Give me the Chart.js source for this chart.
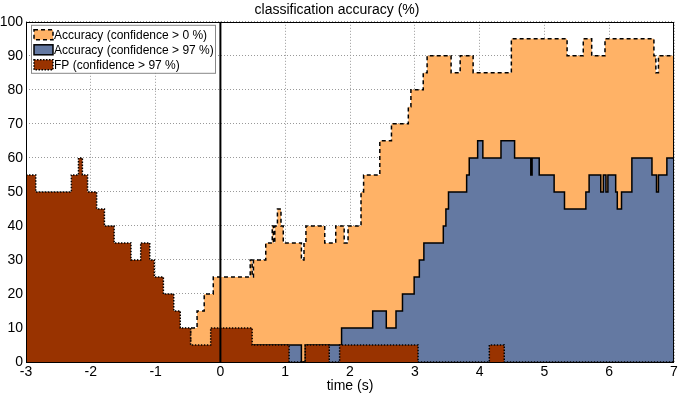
<!DOCTYPE html>
<html>
<head>
<meta charset="utf-8">
<script src="https://cdn.jsdelivr.net/npm/chart.js@4.4.1/dist/chart.umd.min.js"></script>
<style>
  body { margin: 0; background: #fff; }
  #wrap { width: 680px; height: 395px; }
</style>
</head>
<body>
<div id="wrap"><canvas id="acc-chart" width="680" height="395"></canvas></div>
<script>
// step times (s) and values (%) - each value holds until the next time
const accAllT = [-3, -0.46, -0.36, -0.25, -0.11, 0.46, 0.49, 0.51, 0.70, 0.80, 0.82, 0.84, 0.88, 0.935, 0.97, 1.25, 1.29, 1.32, 1.61, 1.78, 1.91, 1.97, 2.17, 2.21, 2.46, 2.64, 2.90, 2.94, 3.13, 3.19, 3.56, 3.70, 3.90, 4.49, 5.35, 5.60, 5.73, 5.935, 6.69, 6.72, 6.76, 7];
const accAllV = [5, 10, 15, 20, 25, 30, 25, 30, 35, 40, 35, 40, 45, 40, 35, 30, 35, 40, 35, 40, 35, 40, 50, 55, 65, 70, 75, 80, 85, 90, 85, 90, 85, 95, 90, 95, 90, 95, 90, 85, 90, 90];

const acc97T = [-3, 0.49, 1.25, 1.31, 1.87, 2.35, 2.56, 2.71, 2.81, 2.99, 3.07, 3.14, 3.44, 3.48, 3.52, 3.80, 3.84, 3.97, 4.05, 4.33, 4.54, 4.79, 4.81, 4.92, 5.15, 5.31, 5.64, 5.69, 5.87, 5.91, 5.95, 5.98, 6.10, 6.125, 6.19, 6.35, 6.66, 6.73, 6.76, 6.89, 7];
const acc97V = [0, 5, 0, 5, 10, 15, 10, 15, 20, 25, 30, 35, 40, 45, 50, 55, 60, 65, 60, 65, 60, 55, 60, 55, 50, 45, 50, 55, 50, 55, 50, 55, 50, 45, 50, 60, 55, 50, 55, 60, 60];

const fpT = [-3, -2.85, -2.30, -2.19, -2.13, -2.05, -1.91, -1.79, -1.64, -1.38, -1.23, -1.09, -1.02, -0.88, -0.72, -0.62, -0.46, -0.15, 0.49, 1.06, 1.31, 1.68, 1.84, 3.05, 4.15, 4.38, 7];
const fpV = [55, 50, 55, 60, 55, 50, 45, 40, 35, 30, 35, 30, 25, 20, 15, 10, 5, 10, 5, 0, 5, 0, 5, 0, 5, 0, 0];

const onsetT = [0, 0];
const onsetV = [0, 100];

const seriesLabels = ['Accuracy (confidence > 0 %)', 'Accuracy (confidence > 97 %)', 'FP (confidence > 97 %)'];
const xTicks = [-3, -2, -1, 0, 1, 2, 3, 4, 5, 6, 7];
const yTicks = [0, 10, 20, 30, 40, 50, 60, 70, 80, 90, 100];

const FONT = '"Liberation Sans", Arial, sans-serif';
const colOrange = 'rgb(255,178,102)';
const colBlue = 'rgb(100,121,162)';
const colFP = 'rgb(153,51,0)';

function toPoints(t, v) {
    return t.map((x, i) => ({ x: x, y: v[i] }));
}

// legend styles, same order as seriesLabels
const legendStyle = [
    { fill: colOrange, dash: [4, 3] },
    { fill: colBlue, dash: [] },
    { fill: colFP, dash: [1.5, 1.5] }
];

const frameLegend = {
    id: 'frameLegend',
    afterDraw(chart) {
        const ctx = chart.ctx;
        const a = chart.chartArea;
        ctx.save();
        // axes box
        ctx.strokeStyle = '#000';
        ctx.lineWidth = 1;
        ctx.setLineDash([]);
        ctx.strokeRect(Math.round(a.left) + 0.5, Math.round(a.top) + 0.5,
            Math.round(a.right - a.left) - 1, Math.round(a.bottom - a.top));

        // legend box
        const lx = a.left + 5, ly = a.top + 3, lw = 184, lh = 48;
        ctx.fillStyle = '#fff';
        ctx.fillRect(lx, ly, lw, lh);
        ctx.strokeStyle = '#888';
        ctx.strokeRect(lx + 0.5, ly + 0.5, lw, lh);

        ctx.font = '12px ' + FONT;
        ctx.textBaseline = 'middle';
        for (let i = 0; i < seriesLabels.length; ++i) {
            const cy = ly + 10 + i * 15;
            ctx.fillStyle = legendStyle[i].fill;
            ctx.fillRect(lx + 3, cy - 5, 19, 10);
            ctx.strokeStyle = '#000';
            ctx.lineWidth = 1.5;
            ctx.setLineDash(legendStyle[i].dash);
            ctx.strokeRect(lx + 3, cy - 5, 19, 10);
            ctx.setLineDash([]);
            ctx.fillStyle = '#000';
            ctx.fillText(seriesLabels[i], lx + 23, cy + 1);
        }
        ctx.restore();
    }
};

const data = {
    datasets: [
        {
            label: 'onset',
            data: toPoints(onsetT, onsetV),
            borderColor: '#000',
            borderWidth: 2,
            pointRadius: 0,
            fill: false,
            order: 0
        },
        {
            label: seriesLabels[2],
            data: toPoints(fpT, fpV),
            stepped: 'before',
            borderColor: '#000',
            borderWidth: 1.5,
            borderDash: [1.5, 1.5],
            backgroundColor: colFP,
            pointRadius: 0,
            fill: 'origin',
            order: 1
        },
        {
            label: seriesLabels[1],
            data: toPoints(acc97T, acc97V),
            stepped: 'before',
            borderColor: '#000',
            borderWidth: 1.5,
            backgroundColor: colBlue,
            pointRadius: 0,
            fill: 'origin',
            order: 2
        },
        {
            label: seriesLabels[0],
            data: toPoints(accAllT, accAllV),
            stepped: 'before',
            borderColor: '#000',
            borderWidth: 1.5,
            borderDash: [4, 3],
            backgroundColor: colOrange,
            pointRadius: 0,
            fill: 'origin',
            order: 3
        }
    ]
};

const config = {
    type: 'line',
    data: data,
    options: {
        responsive: false,
        animation: false,
        layout: { padding: { left: 0, right: 6, top: 0, bottom: 0 } },
        plugins: {
            legend: { display: false },
            tooltip: { enabled: false },
            title: {
                display: true,
                text: 'classification accuracy (%)',
                color: '#000',
                font: { family: FONT, size: 14, weight: 'normal' },
                padding: { top: 2, bottom: 3 }
            }
        },
        scales: {
            x: {
                type: 'linear',
                min: -3,
                max: 7,
                afterBuildTicks: (s) => { s.ticks = xTicks.map(v => ({ value: v })); },
                afterFit: (s) => { s.height = 33; },
                ticks: { color: '#000', font: { family: FONT, size: 14 }, padding: 2, maxRotation: 0 },
                grid: { color: '#999', drawTicks: false, lineWidth: 1 },
                border: { display: false, dash: [1, 2] },
                title: { display: true, text: 'time (s)', color: '#000', font: { family: FONT, size: 14 }, padding: 0 }
            },
            y: {
                min: 0,
                max: 100,
                afterBuildTicks: (s) => { s.ticks = yTicks.map(v => ({ value: v })); },
                afterFit: (s) => { s.width = 26; },
                ticks: { color: '#000', font: { family: FONT, size: 14 }, padding: 3 },
                grid: { color: '#999', drawTicks: false, lineWidth: 1 },
                border: { display: false, dash: [1, 2] }
            }
        }
    },
    plugins: [frameLegend]
};

let chart = new Chart('acc-chart', config);
</script>
</body>
</html>
